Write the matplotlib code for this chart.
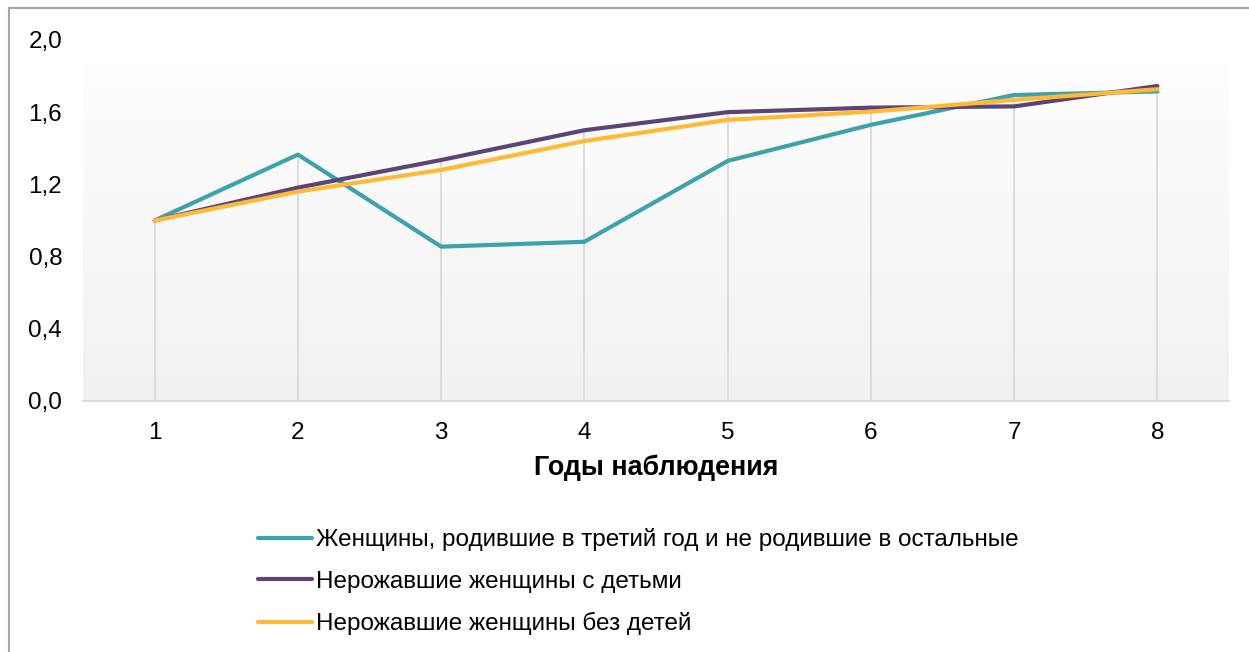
import numpy as np
import matplotlib.pyplot as plt
from matplotlib.colors import LinearSegmentedColormap
from matplotlib.patches import Rectangle

plt.rcParams['font.family'] = ['Liberation Sans', 'DejaVu Sans']

years = [1, 2, 3, 4, 5, 6, 7, 8]
third_year = [1.00, 1.365, 0.855, 0.882, 1.33, 1.53, 1.695, 1.715]
with_kids = [1.00, 1.182, 1.335, 1.50, 1.60, 1.625, 1.632, 1.745]
no_kids = [1.00, 1.160, 1.280, 1.44, 1.557, 1.603, 1.668, 1.727]

labels = ['Женщины, родившие в третий год и не родившие в остальные',
          'Нерожавшие женщины с детьми',
          'Нерожавшие женщины без детей']
colors = ['#3CA2AC', '#5A4576', '#FFB935']
yticks = [0.0, 0.4, 0.8, 1.2, 1.6, 2.0]

fig = plt.figure(figsize=(12.49, 6.52), dpi=100)
ax = fig.add_axes([0.0665, 0.385, 0.9175, 0.5537])

# gradient plot area
cmap = LinearSegmentedColormap.from_list('bg', ['#f1f1f1', '#ffffff'])
grad = np.linspace(0, 1, 256).reshape(-1, 1)
ax.imshow(grad, cmap=cmap, aspect='auto', origin='lower',
          extent=[0, 1, 0, 1], transform=ax.transAxes, zorder=0)

# drop lines
tops = np.max([third_year, with_kids, no_kids], axis=0)
ax.vlines(years, 0, tops, color='#d9d9d9', lw=1.3, zorder=1)

for vals, lab, c in zip([third_year, with_kids, no_kids], labels, colors):
    ax.plot(years, vals, color=c, lw=3, label=lab, zorder=3,
            solid_capstyle='round', solid_joinstyle='round')

ax.set_xlim(0.5, 8.5)
ax.set_ylim(0, 2.0)
ax.set_yticks(yticks)
ax.set_yticklabels([f'{v:.1f}'.replace('.', ',') for v in yticks])
ax.set_xticks(years)
ax.tick_params(length=0, labelsize=17.5, colors='#000000')
ax.tick_params(axis='y', pad=15)
ax.tick_params(axis='x', pad=15)
for s in ['top', 'right', 'left']:
    ax.spines[s].set_visible(False)
ax.spines['bottom'].set_color('#d9d9d9')
ax.spines['bottom'].set_linewidth(1.3)

ax.set_xlabel('Годы наблюдения', fontsize=19.4, fontweight='bold', labelpad=8)

leg = fig.legend(loc='upper left', bbox_to_anchor=(0.2066, 0.19), frameon=False,
                 fontsize=17.5, handlelength=2.2, handletextpad=0.17,
                 labelspacing=0.8, borderaxespad=0, borderpad=0)

# outer border
fig.patches.append(Rectangle((9 / 1249, -0.1), 1.2, 1 - 8 / 652 + 0.1,
                             transform=fig.transFigure, fill=False,
                             edgecolor='#a6a6a6', lw=1.5))

fig.savefig('out.png', dpi=100)
